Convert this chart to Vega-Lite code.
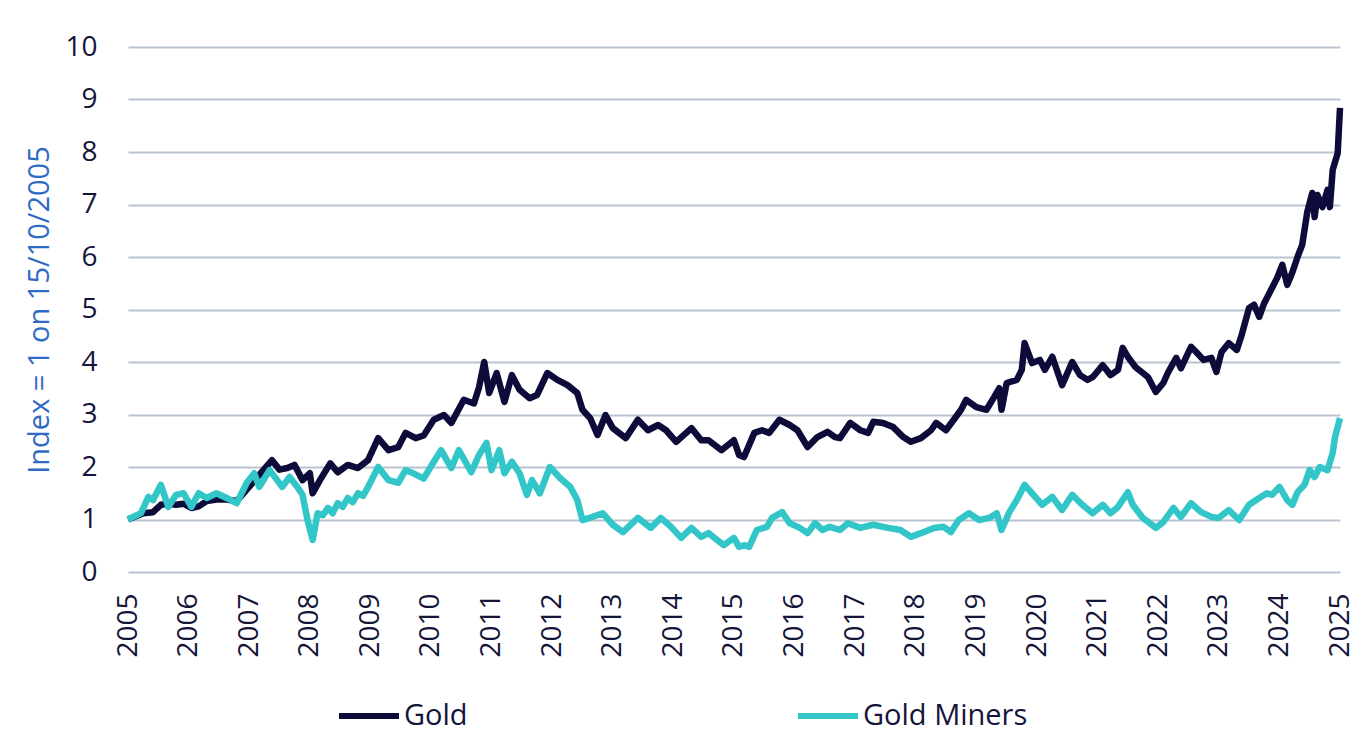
{
  "$schema": "https://vega.github.io/schema/vega-lite/v6.json",
  "width": 1212,
  "height": 525,
  "autosize": "none",
  "padding": {"left": 128, "top": 47, "right": 25, "bottom": 158},
  "background": "white",
  "config": {
    "font": "Open Sans",
    "view": {"stroke": null},
    "axis": {"labelFont": "Open Sans", "titleFont": "Open Sans"}
  },
  "datasets": {
    "gold": [
      {"date": "2005-10-15", "value": 1.0},
      {"date": "2006-01-15", "value": 1.12},
      {"date": "2006-03-15", "value": 1.14},
      {"date": "2006-05-01", "value": 1.28},
      {"date": "2006-06-15", "value": 1.3},
      {"date": "2006-08-01", "value": 1.28},
      {"date": "2006-09-15", "value": 1.3},
      {"date": "2006-11-01", "value": 1.22},
      {"date": "2006-12-15", "value": 1.25},
      {"date": "2007-02-01", "value": 1.35},
      {"date": "2007-04-01", "value": 1.38},
      {"date": "2007-06-01", "value": 1.38},
      {"date": "2007-08-01", "value": 1.35},
      {"date": "2007-10-15", "value": 1.62},
      {"date": "2007-12-15", "value": 1.85},
      {"date": "2008-03-01", "value": 2.13},
      {"date": "2008-04-15", "value": 1.95},
      {"date": "2008-06-01", "value": 1.98},
      {"date": "2008-07-15", "value": 2.04},
      {"date": "2008-09-01", "value": 1.75},
      {"date": "2008-10-15", "value": 1.88},
      {"date": "2008-11-01", "value": 1.5},
      {"date": "2008-12-15", "value": 1.75},
      {"date": "2009-02-15", "value": 2.07},
      {"date": "2009-04-01", "value": 1.9},
      {"date": "2009-06-01", "value": 2.04},
      {"date": "2009-08-01", "value": 1.98},
      {"date": "2009-10-01", "value": 2.13},
      {"date": "2009-12-01", "value": 2.55},
      {"date": "2010-02-01", "value": 2.32},
      {"date": "2010-04-01", "value": 2.38},
      {"date": "2010-05-15", "value": 2.65},
      {"date": "2010-07-15", "value": 2.55},
      {"date": "2010-09-01", "value": 2.6},
      {"date": "2010-11-01", "value": 2.9},
      {"date": "2011-01-01", "value": 2.99},
      {"date": "2011-02-15", "value": 2.84},
      {"date": "2011-05-01", "value": 3.28},
      {"date": "2011-07-01", "value": 3.21},
      {"date": "2011-08-01", "value": 3.52},
      {"date": "2011-09-01", "value": 4.0},
      {"date": "2011-10-01", "value": 3.41},
      {"date": "2011-11-15", "value": 3.79},
      {"date": "2012-01-01", "value": 3.24},
      {"date": "2012-02-15", "value": 3.75},
      {"date": "2012-04-01", "value": 3.47},
      {"date": "2012-06-01", "value": 3.31},
      {"date": "2012-07-15", "value": 3.37},
      {"date": "2012-09-15", "value": 3.79},
      {"date": "2012-11-15", "value": 3.66},
      {"date": "2013-01-15", "value": 3.56},
      {"date": "2013-03-15", "value": 3.41},
      {"date": "2013-04-15", "value": 3.09},
      {"date": "2013-06-01", "value": 2.93},
      {"date": "2013-07-15", "value": 2.61},
      {"date": "2013-09-01", "value": 2.99},
      {"date": "2013-10-15", "value": 2.74},
      {"date": "2014-01-01", "value": 2.55},
      {"date": "2014-03-15", "value": 2.9},
      {"date": "2014-05-15", "value": 2.7},
      {"date": "2014-07-15", "value": 2.8},
      {"date": "2014-09-01", "value": 2.7},
      {"date": "2014-11-01", "value": 2.48},
      {"date": "2015-02-01", "value": 2.74},
      {"date": "2015-04-01", "value": 2.51},
      {"date": "2015-05-15", "value": 2.51},
      {"date": "2015-08-01", "value": 2.32},
      {"date": "2015-10-15", "value": 2.51},
      {"date": "2015-11-15", "value": 2.23},
      {"date": "2015-12-15", "value": 2.19},
      {"date": "2016-02-15", "value": 2.65},
      {"date": "2016-04-01", "value": 2.7},
      {"date": "2016-05-15", "value": 2.65},
      {"date": "2016-07-15", "value": 2.9},
      {"date": "2016-09-15", "value": 2.8},
      {"date": "2016-11-01", "value": 2.7},
      {"date": "2017-01-01", "value": 2.38},
      {"date": "2017-03-01", "value": 2.57},
      {"date": "2017-05-01", "value": 2.67},
      {"date": "2017-06-15", "value": 2.57},
      {"date": "2017-07-15", "value": 2.55},
      {"date": "2017-09-15", "value": 2.84},
      {"date": "2017-11-15", "value": 2.7},
      {"date": "2018-01-01", "value": 2.65},
      {"date": "2018-02-01", "value": 2.86},
      {"date": "2018-04-01", "value": 2.84},
      {"date": "2018-06-01", "value": 2.76},
      {"date": "2018-08-01", "value": 2.57},
      {"date": "2018-09-15", "value": 2.48},
      {"date": "2018-11-15", "value": 2.55},
      {"date": "2019-01-15", "value": 2.7},
      {"date": "2019-02-15", "value": 2.84},
      {"date": "2019-04-15", "value": 2.7},
      {"date": "2019-06-01", "value": 2.9},
      {"date": "2019-07-15", "value": 3.09},
      {"date": "2019-08-15", "value": 3.28},
      {"date": "2019-10-15", "value": 3.14},
      {"date": "2019-12-15", "value": 3.09},
      {"date": "2020-02-01", "value": 3.34},
      {"date": "2020-03-01", "value": 3.5},
      {"date": "2020-03-15", "value": 3.09},
      {"date": "2020-04-15", "value": 3.6},
      {"date": "2020-06-15", "value": 3.66},
      {"date": "2020-07-15", "value": 3.85},
      {"date": "2020-08-01", "value": 4.36},
      {"date": "2020-09-15", "value": 3.98},
      {"date": "2020-11-01", "value": 4.04},
      {"date": "2020-12-01", "value": 3.85},
      {"date": "2021-01-15", "value": 4.1},
      {"date": "2021-03-15", "value": 3.56},
      {"date": "2021-05-15", "value": 4.0},
      {"date": "2021-07-01", "value": 3.75},
      {"date": "2021-08-15", "value": 3.66},
      {"date": "2021-09-15", "value": 3.71},
      {"date": "2021-11-15", "value": 3.94},
      {"date": "2022-01-01", "value": 3.75},
      {"date": "2022-02-15", "value": 3.85},
      {"date": "2022-03-15", "value": 4.27},
      {"date": "2022-04-15", "value": 4.1},
      {"date": "2022-06-01", "value": 3.9},
      {"date": "2022-07-15", "value": 3.79},
      {"date": "2022-08-15", "value": 3.71},
      {"date": "2022-10-01", "value": 3.43},
      {"date": "2022-11-15", "value": 3.6},
      {"date": "2022-12-15", "value": 3.81},
      {"date": "2023-02-01", "value": 4.08},
      {"date": "2023-03-01", "value": 3.88},
      {"date": "2023-05-01", "value": 4.29},
      {"date": "2023-06-01", "value": 4.19},
      {"date": "2023-07-15", "value": 4.04},
      {"date": "2023-09-01", "value": 4.08},
      {"date": "2023-10-01", "value": 3.81},
      {"date": "2023-11-01", "value": 4.19},
      {"date": "2023-12-15", "value": 4.36},
      {"date": "2024-02-01", "value": 4.23},
      {"date": "2024-03-01", "value": 4.51},
      {"date": "2024-04-15", "value": 5.03},
      {"date": "2024-05-15", "value": 5.09},
      {"date": "2024-06-15", "value": 4.86},
      {"date": "2024-07-15", "value": 5.12},
      {"date": "2024-08-15", "value": 5.31},
      {"date": "2024-10-01", "value": 5.6},
      {"date": "2024-11-01", "value": 5.85},
      {"date": "2024-12-01", "value": 5.47},
      {"date": "2025-01-01", "value": 5.71},
      {"date": "2025-02-01", "value": 6.0},
      {"date": "2025-03-01", "value": 6.23},
      {"date": "2025-04-01", "value": 6.86},
      {"date": "2025-05-01", "value": 7.22},
      {"date": "2025-05-15", "value": 6.76},
      {"date": "2025-06-01", "value": 7.18},
      {"date": "2025-07-01", "value": 6.95},
      {"date": "2025-08-01", "value": 7.28},
      {"date": "2025-08-15", "value": 6.95},
      {"date": "2025-09-01", "value": 7.66},
      {"date": "2025-10-01", "value": 7.98},
      {"date": "2025-10-15", "value": 8.84}
    ],
    "miners": [
      {"date": "2005-10-15", "value": 1.0},
      {"date": "2006-01-01", "value": 1.12},
      {"date": "2006-02-15", "value": 1.43},
      {"date": "2006-03-15", "value": 1.37},
      {"date": "2006-05-01", "value": 1.66},
      {"date": "2006-06-15", "value": 1.24},
      {"date": "2006-08-01", "value": 1.47},
      {"date": "2006-09-15", "value": 1.5},
      {"date": "2006-11-01", "value": 1.24},
      {"date": "2006-12-15", "value": 1.5},
      {"date": "2007-02-01", "value": 1.41},
      {"date": "2007-04-01", "value": 1.5},
      {"date": "2007-06-01", "value": 1.41},
      {"date": "2007-08-01", "value": 1.31},
      {"date": "2007-10-01", "value": 1.7},
      {"date": "2007-11-15", "value": 1.88},
      {"date": "2007-12-15", "value": 1.62},
      {"date": "2008-02-15", "value": 1.94},
      {"date": "2008-04-01", "value": 1.75},
      {"date": "2008-05-01", "value": 1.62},
      {"date": "2008-06-15", "value": 1.81},
      {"date": "2008-08-01", "value": 1.62},
      {"date": "2008-09-01", "value": 1.47},
      {"date": "2008-10-01", "value": 0.99},
      {"date": "2008-11-01", "value": 0.61},
      {"date": "2008-12-01", "value": 1.12},
      {"date": "2009-01-01", "value": 1.08},
      {"date": "2009-02-01", "value": 1.22},
      {"date": "2009-03-01", "value": 1.12},
      {"date": "2009-04-01", "value": 1.31},
      {"date": "2009-05-01", "value": 1.24},
      {"date": "2009-06-01", "value": 1.41},
      {"date": "2009-07-01", "value": 1.33},
      {"date": "2009-08-01", "value": 1.5},
      {"date": "2009-09-01", "value": 1.45},
      {"date": "2009-10-01", "value": 1.62},
      {"date": "2009-12-01", "value": 2.0},
      {"date": "2010-02-01", "value": 1.75},
      {"date": "2010-04-01", "value": 1.7},
      {"date": "2010-05-15", "value": 1.94},
      {"date": "2010-07-01", "value": 1.88},
      {"date": "2010-09-01", "value": 1.78},
      {"date": "2010-11-01", "value": 2.1},
      {"date": "2010-12-15", "value": 2.32},
      {"date": "2011-02-15", "value": 1.98},
      {"date": "2011-04-01", "value": 2.32},
      {"date": "2011-06-15", "value": 1.9},
      {"date": "2011-08-01", "value": 2.23},
      {"date": "2011-09-15", "value": 2.46},
      {"date": "2011-10-15", "value": 1.94},
      {"date": "2011-12-01", "value": 2.32},
      {"date": "2012-01-01", "value": 1.88},
      {"date": "2012-02-15", "value": 2.1},
      {"date": "2012-04-01", "value": 1.88},
      {"date": "2012-05-15", "value": 1.47},
      {"date": "2012-06-15", "value": 1.75},
      {"date": "2012-08-01", "value": 1.5},
      {"date": "2012-10-01", "value": 2.0},
      {"date": "2012-12-01", "value": 1.79},
      {"date": "2013-02-01", "value": 1.62},
      {"date": "2013-03-15", "value": 1.37},
      {"date": "2013-04-15", "value": 0.99},
      {"date": "2013-06-15", "value": 1.05},
      {"date": "2013-08-15", "value": 1.12},
      {"date": "2013-10-15", "value": 0.9},
      {"date": "2013-12-15", "value": 0.76},
      {"date": "2014-03-15", "value": 1.03},
      {"date": "2014-06-01", "value": 0.84},
      {"date": "2014-08-01", "value": 1.03},
      {"date": "2014-10-01", "value": 0.86},
      {"date": "2014-12-01", "value": 0.65},
      {"date": "2015-02-01", "value": 0.84},
      {"date": "2015-04-01", "value": 0.67},
      {"date": "2015-05-15", "value": 0.74},
      {"date": "2015-08-15", "value": 0.51},
      {"date": "2015-10-15", "value": 0.65},
      {"date": "2015-11-15", "value": 0.48},
      {"date": "2015-12-15", "value": 0.51},
      {"date": "2016-01-15", "value": 0.48},
      {"date": "2016-03-01", "value": 0.8},
      {"date": "2016-05-01", "value": 0.86},
      {"date": "2016-06-01", "value": 1.03},
      {"date": "2016-08-01", "value": 1.14},
      {"date": "2016-09-15", "value": 0.93},
      {"date": "2016-11-15", "value": 0.84},
      {"date": "2017-01-01", "value": 0.74},
      {"date": "2017-02-15", "value": 0.93},
      {"date": "2017-04-01", "value": 0.8},
      {"date": "2017-05-15", "value": 0.86},
      {"date": "2017-07-15", "value": 0.8},
      {"date": "2017-09-01", "value": 0.93},
      {"date": "2017-11-15", "value": 0.84},
      {"date": "2018-02-01", "value": 0.9},
      {"date": "2018-05-01", "value": 0.84},
      {"date": "2018-07-15", "value": 0.8},
      {"date": "2018-09-15", "value": 0.67},
      {"date": "2018-11-15", "value": 0.74},
      {"date": "2019-02-01", "value": 0.84},
      {"date": "2019-04-01", "value": 0.86},
      {"date": "2019-05-15", "value": 0.76},
      {"date": "2019-07-01", "value": 0.99},
      {"date": "2019-09-01", "value": 1.12},
      {"date": "2019-11-01", "value": 0.99},
      {"date": "2020-01-01", "value": 1.03},
      {"date": "2020-02-15", "value": 1.12},
      {"date": "2020-03-15", "value": 0.8},
      {"date": "2020-05-01", "value": 1.14},
      {"date": "2020-06-15", "value": 1.37},
      {"date": "2020-08-01", "value": 1.66},
      {"date": "2020-09-15", "value": 1.5},
      {"date": "2020-11-15", "value": 1.28},
      {"date": "2021-01-15", "value": 1.43},
      {"date": "2021-03-15", "value": 1.18},
      {"date": "2021-05-15", "value": 1.47},
      {"date": "2021-07-15", "value": 1.28},
      {"date": "2021-09-15", "value": 1.12},
      {"date": "2021-11-15", "value": 1.28},
      {"date": "2022-01-01", "value": 1.12},
      {"date": "2022-02-15", "value": 1.24},
      {"date": "2022-04-15", "value": 1.52},
      {"date": "2022-05-15", "value": 1.28},
      {"date": "2022-07-15", "value": 1.03},
      {"date": "2022-10-01", "value": 0.84},
      {"date": "2022-11-15", "value": 0.95},
      {"date": "2023-01-15", "value": 1.22},
      {"date": "2023-03-01", "value": 1.05},
      {"date": "2023-05-01", "value": 1.31},
      {"date": "2023-07-01", "value": 1.14},
      {"date": "2023-09-01", "value": 1.05},
      {"date": "2023-10-15", "value": 1.03},
      {"date": "2023-12-15", "value": 1.18},
      {"date": "2024-02-15", "value": 0.99},
      {"date": "2024-04-15", "value": 1.28},
      {"date": "2024-06-15", "value": 1.41},
      {"date": "2024-08-01", "value": 1.5},
      {"date": "2024-09-01", "value": 1.47},
      {"date": "2024-10-15", "value": 1.62},
      {"date": "2024-12-01", "value": 1.37},
      {"date": "2025-01-01", "value": 1.28},
      {"date": "2025-02-01", "value": 1.52},
      {"date": "2025-03-15", "value": 1.66},
      {"date": "2025-04-15", "value": 1.94},
      {"date": "2025-05-15", "value": 1.81},
      {"date": "2025-06-15", "value": 2.0},
      {"date": "2025-08-01", "value": 1.94},
      {"date": "2025-09-01", "value": 2.27},
      {"date": "2025-09-15", "value": 2.57},
      {"date": "2025-10-15", "value": 2.93}
    ]
  },
  "encoding": {
    "x": {
      "field": "date",
      "type": "temporal",
      "scale": {"domain": ["2005-10-15", "2025-10-15"]},
      "axis": {
        "title": null,
        "values": ["2005-10-15", "2006-10-15", "2007-10-15", "2008-10-15", "2009-10-15", "2010-10-15", "2011-10-15", "2012-10-15", "2013-10-15", "2014-10-15", "2015-10-15", "2016-10-15", "2017-10-15", "2018-10-15", "2019-10-15", "2020-10-15", "2021-10-15", "2022-10-15", "2023-10-15", "2024-10-15", "2025-10-15"],
        "format": "%Y",
        "labelAngle": 270,
        "labelAlign": "right",
        "labelBaseline": "middle",
        "labelFontSize": 28,
        "labelColor": "#15153a",
        "labelPadding": 21,
        "ticks": false,
        "domain": false,
        "grid": false,
        "labelOverlap": false,
        "labelFlush": false,
        "labelBound": false
      }
    },
    "y": {
      "field": "value",
      "type": "quantitative",
      "scale": {"domain": [0, 10], "nice": false},
      "axis": {
        "title": "Index = 1 on 15/10/2005",
        "titleFontSize": 29,
        "titleFontWeight": "normal",
        "titleColor": "#2f6bc4",
        "titlePadding": 10,
        "values": [0, 1, 2, 3, 4, 5, 6, 7, 8, 9, 10],
        "labelFontSize": 28,
        "labelColor": "#15153a",
        "labelPadding": 31,
        "ticks": false,
        "domain": false,
        "grid": true,
        "gridColor": "#b9c4d0",
        "gridWidth": 2,
        "labelFlush": false,
        "labelBound": false
      }
    },
    "color": {
      "field": "series",
      "type": "nominal",
      "scale": {"domain": ["Gold", "Gold Miners"], "range": ["#0c0b3a", "#33c6c9"]},
      "legend": {
        "title": null,
        "orient": "none",
        "legendX": 208,
        "legendY": 636,
        "direction": "horizontal",
        "columns": 2,
        "columnPadding": 318,
        "symbolType": "stroke",
        "symbolSize": 3600,
        "symbolStrokeWidth": 6,
        "labelFontSize": 29,
        "labelColor": "#15153a",
        "labelOffset": 2,
        "labelLimit": 400,
        "padding": 0
      }
    }
  },
  "layer": [
    {
      "data": {"name": "gold"},
      "transform": [{"calculate": "'Gold'", "as": "series"}],
      "mark": {"type": "line", "strokeWidth": 6.5, "strokeJoin": "round"}
    },
    {
      "data": {"name": "miners"},
      "transform": [{"calculate": "'Gold Miners'", "as": "series"}],
      "mark": {"type": "line", "strokeWidth": 6.5, "strokeJoin": "round"}
    }
  ]
}
